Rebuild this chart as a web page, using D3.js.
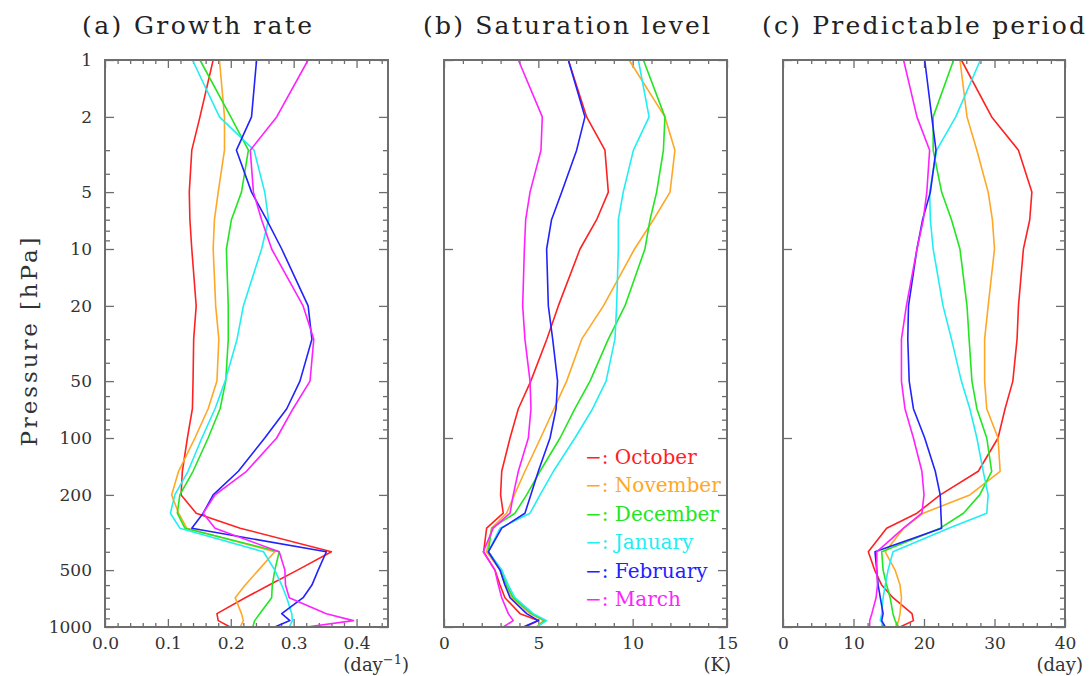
<!DOCTYPE html>
<html>
<head>
<meta charset="utf-8">
<script src="https://cdn.jsdelivr.net/npm/d3@7"></script>
<style>
  body { margin: 0; background: #fff; }
  svg text { font-family: "DejaVu Serif", serif; }
</style>
</head>
<body>
<script>
// pressure levels (hPa) at which the profiles are given
const levels = [1, 2, 3, 5, 7, 10, 20, 30, 50, 70, 100, 150, 200, 250, 300, 400, 500, 600, 700, 850, 925, 1000];
const months = ["October", "November", "December", "January", "February", "March"];
const monthColors = ["#ff2222", "#ffa726", "#22e622", "#22eef2", "#2222ff", "#ff22ff"];

// (a) growth rate, day^-1, one row per month
const growthRate = [
  [0.172, 0.151, 0.138, 0.134, 0.135, 0.138, 0.145, 0.141, 0.140, 0.139, 0.131, 0.123, 0.121, 0.145, 0.215, 0.360, 0.306, 0.261, 0.223, 0.178, 0.180, 0.199],
  [0.182, 0.190, 0.190, 0.180, 0.174, 0.172, 0.176, 0.181, 0.178, 0.164, 0.143, 0.117, 0.106, 0.117, 0.130, 0.270, 0.244, 0.223, 0.207, 0.217, 0.220, 0.215],
  [0.151, 0.200, 0.228, 0.217, 0.201, 0.193, 0.196, 0.196, 0.192, 0.183, 0.164, 0.140, 0.119, 0.115, 0.127, 0.277, 0.270, 0.266, 0.265, 0.246, 0.238, 0.235],
  [0.139, 0.182, 0.237, 0.254, 0.260, 0.249, 0.220, 0.210, 0.191, 0.175, 0.154, 0.132, 0.111, 0.104, 0.119, 0.252, 0.270, 0.281, 0.289, 0.297, 0.298, 0.293],
  [0.241, 0.233, 0.209, 0.233, 0.257, 0.281, 0.323, 0.329, 0.310, 0.289, 0.254, 0.212, 0.172, 0.156, 0.138, 0.352, 0.339, 0.329, 0.315, 0.281, 0.294, 0.270],
  [0.323, 0.273, 0.231, 0.236, 0.249, 0.265, 0.315, 0.332, 0.326, 0.299, 0.273, 0.225, 0.175, 0.156, 0.175, 0.277, 0.286, 0.287, 0.293, 0.352, 0.395, 0.321]
];

// (b) saturation level, K
const saturation = [
  [6.59, 7.56, 8.53, 8.71, 8.09, 7.21, 6.06, 5.45, 4.60, 3.94, 3.50, 3.06, 3.00, 3.14, 2.26, 2.10, 2.70, 2.97, 3.23, 4.03, 5.00, 4.29],
  [9.81, 11.71, 12.24, 11.98, 11.10, 10.10, 8.45, 7.30, 6.50, 5.83, 5.12, 4.29, 3.73, 3.32, 2.53, 2.26, 2.97, 3.23, 3.59, 4.56, 5.27, 4.91],
  [10.57, 11.71, 11.63, 11.27, 10.92, 10.65, 9.59, 8.71, 7.74, 6.94, 6.15, 5.09, 4.38, 3.76, 2.53, 2.35, 3.06, 3.32, 3.67, 4.65, 5.35, 4.91],
  [10.30, 10.87, 10.04, 9.50, 9.24, 9.24, 9.15, 9.06, 8.59, 7.88, 6.94, 5.80, 5.09, 4.56, 2.97, 2.35, 3.06, 3.41, 3.76, 4.73, 5.44, 4.91],
  [6.59, 7.47, 7.03, 6.24, 5.70, 5.44, 5.53, 5.76, 6.02, 5.94, 5.62, 5.00, 4.60, 4.29, 3.06, 2.35, 2.97, 3.23, 3.50, 4.38, 5.00, 4.20],
  [3.94, 5.21, 5.14, 4.56, 4.33, 4.26, 4.17, 4.29, 4.56, 4.61, 4.47, 3.94, 3.67, 3.50, 2.61, 2.08, 2.70, 2.88, 3.06, 3.41, 3.67, 3.14]
];

// (c) predictable period, day
const predictable = [
  [25.3, 29.6, 33.4, 35.3, 35.0, 34.1, 33.4, 33.2, 32.6, 31.5, 30.5, 27.7, 22.3, 19.0, 14.7, 12.1, 13.0, 14.0, 15.6, 18.3, 18.5, 16.6],
  [25.1, 26.1, 27.5, 29.1, 29.7, 30.0, 29.1, 28.6, 28.6, 28.9, 30.5, 30.8, 26.5, 19.9, 17.1, 14.5, 15.9, 16.6, 16.8, 16.6, 16.4, 16.1],
  [24.2, 21.3, 21.3, 22.5, 23.9, 25.1, 26.1, 26.4, 26.8, 27.5, 28.9, 29.6, 27.9, 25.6, 22.3, 14.0, 14.2, 14.7, 15.2, 15.6, 15.9, 16.4],
  [28.0, 24.5, 21.8, 20.8, 20.9, 21.3, 22.7, 23.9, 25.3, 26.5, 27.5, 28.4, 29.1, 28.9, 23.5, 15.6, 14.9, 14.5, 14.2, 14.0, 13.8, 14.5],
  [20.1, 21.1, 21.7, 20.9, 19.8, 19.0, 17.8, 17.7, 17.9, 18.5, 20.1, 21.6, 22.3, 22.4, 22.5, 13.05, 13.3, 13.5, 13.8, 14.2, 14.0, 14.5],
  [17.1, 19.0, 20.8, 20.4, 19.9, 19.0, 17.5, 16.8, 16.8, 17.3, 18.5, 19.7, 20.0, 19.7, 17.1, 13.3, 13.3, 13.4, 13.2, 12.6, 12.3, 12.3]
];

const yMajor = [1, 2, 5, 10, 20, 50, 100, 200, 500, 1000];
const yMinor = [3, 4, 6, 7, 8, 9, 30, 40, 60, 70, 80, 90, 300, 400, 600, 700, 800, 900];
const yDecades = [1, 10, 100, 1000];

const panels = [
  { title: "(a) Growth rate", titleX: 82, titleW: 230, data: growthRate, domain: [0, 0.45],
    major: [0, 0.1, 0.2, 0.3, 0.4], minorStep: 0.02, fmt: d3.format(".1f"), unit: "(day", sup: "\u22121",
    left: 105, right: 388, unitX: 409 },
  { title: "(b) Saturation level", titleX: 423, titleW: 287, data: saturation, domain: [0, 15],
    major: [0, 5, 10, 15], minorStep: 1, fmt: d3.format("d"), unit: "(K)", sup: null,
    left: 444, right: 727, unitX: 731 },
  { title: "(c) Predictable period", titleX: 762, titleW: 323, data: predictable, domain: [0, 40],
    major: [0, 10, 20, 30, 40], minorStep: 2, fmt: d3.format("d"), unit: "(day)", sup: null,
    left: 783, right: 1065, unitX: 1083 }
];

const width = 1090, height = 676;
const plotTop = 60, plotBottom = 627;
const axisColor = "#6e6e6e";
const labelColor = "#333";

const svg = d3.select("body").append("svg")
    .attr("width", width)
    .attr("height", height);

const y = d3.scaleLog().domain([1, 1000]).range([plotTop, plotBottom]);

panels.forEach(function (p, pi) {
    const x = d3.scaleLinear().domain(p.domain).range([p.left, p.right]);
    const minor = d3.range(p.domain[0], p.domain[1] + 1e-9, p.minorStep)
        .filter(v => !p.major.some(m => Math.abs(m - v) < 1e-9));

    const g = svg.append("g");

    // bottom axis with labels, minor ticks, top ticks
    g.append("g").attr("transform", `translate(0,${plotBottom})`)
        .call(d3.axisBottom(x).tickValues(p.major).tickSize(-8).tickPadding(10).tickFormat(p.fmt));
    g.append("g").attr("transform", `translate(0,${plotBottom})`)
        .call(d3.axisBottom(x).tickValues(minor).tickSize(-4).tickFormat(""));
    g.append("g").attr("transform", `translate(0,${plotTop})`)
        .call(d3.axisTop(x).tickValues(p.major).tickSize(-8).tickFormat(""));
    g.append("g").attr("transform", `translate(0,${plotTop})`)
        .call(d3.axisTop(x).tickValues(minor).tickSize(-4).tickFormat(""));

    // left axis: labelled only on the first panel
    if (pi === 0) {
        g.append("g").attr("transform", `translate(${p.left},0)`)
            .call(d3.axisLeft(y).tickValues(yMajor).tickSize(-9).tickPadding(13).tickFormat(d3.format("d")));
        g.append("g").attr("transform", `translate(${p.left},0)`)
            .call(d3.axisLeft(y).tickValues(yMinor).tickSize(-5).tickFormat(""));
    } else {
        g.append("g").attr("transform", `translate(${p.left},0)`)
            .call(d3.axisLeft(y).tickValues(yDecades).tickSize(-9).tickFormat(""));
    }
    g.append("g").attr("transform", `translate(${p.right},0)`)
        .call(d3.axisRight(y).tickValues(yMajor).tickSize(-9).tickFormat(""));
    g.append("g").attr("transform", `translate(${p.right},0)`)
        .call(d3.axisRight(y).tickValues(yMinor).tickSize(-5).tickFormat(""));

    g.selectAll(".domain").remove();
    g.selectAll(".tick line").attr("stroke", axisColor).attr("stroke-width", 1.3);
    g.selectAll(".tick text").attr("fill", labelColor).style("font-size", "17px");

    // profiles
    const line = d3.line()
        .x(d => x(d[0]))
        .y(d => y(d[1]));
    p.data.forEach(function (vals, mi) {
        g.append("path")
            .datum(vals.map((v, i) => [v, levels[i]]))
            .attr("fill", "none")
            .attr("stroke", monthColors[mi])
            .attr("stroke-width", 1.6)
            .attr("stroke-linejoin", "round")
            .attr("d", line);
    });

    // frame
    g.append("rect")
        .attr("x", p.left).attr("y", plotTop)
        .attr("width", p.right - p.left).attr("height", plotBottom - plotTop)
        .attr("fill", "none")
        .attr("stroke", axisColor)
        .attr("stroke-width", 2);

    // panel title
    g.append("text")
        .attr("x", p.titleX).attr("y", 34)
        .attr("textLength", p.titleW)
        .attr("lengthAdjust", "spacing")
        .attr("fill", "#222")
        .style("font-size", "25px")
        .text(p.title);

    // unit label
    const u = g.append("text")
        .attr("x", p.unitX).attr("y", 671)
        .attr("text-anchor", "end")
        .attr("fill", labelColor)
        .style("font-size", "18px")
        .text(p.unit);
    if (p.sup) {
        u.append("tspan").attr("dy", -7).style("font-size", "13px").text(p.sup);
        u.append("tspan").attr("dy", 7).text(")");
    }
});

// y-axis label
svg.append("text")
    .attr("transform", "translate(37,342) rotate(-90)")
    .attr("text-anchor", "middle")
    .attr("textLength", 209)
    .attr("lengthAdjust", "spacing")
    .attr("fill", labelColor)
    .style("font-size", "23px")
    .text("Pressure [hPa]");

// legend
const legend = svg.append("g");
months.forEach(function (m, i) {
    legend.append("text")
        .attr("x", 585)
        .attr("y", 464 + i * 28.4)
        .attr("fill", monthColors[i])
        .style("font-size", "20px")
        .text("\u2212: " + m);
});
</script>
</body>
</html>
